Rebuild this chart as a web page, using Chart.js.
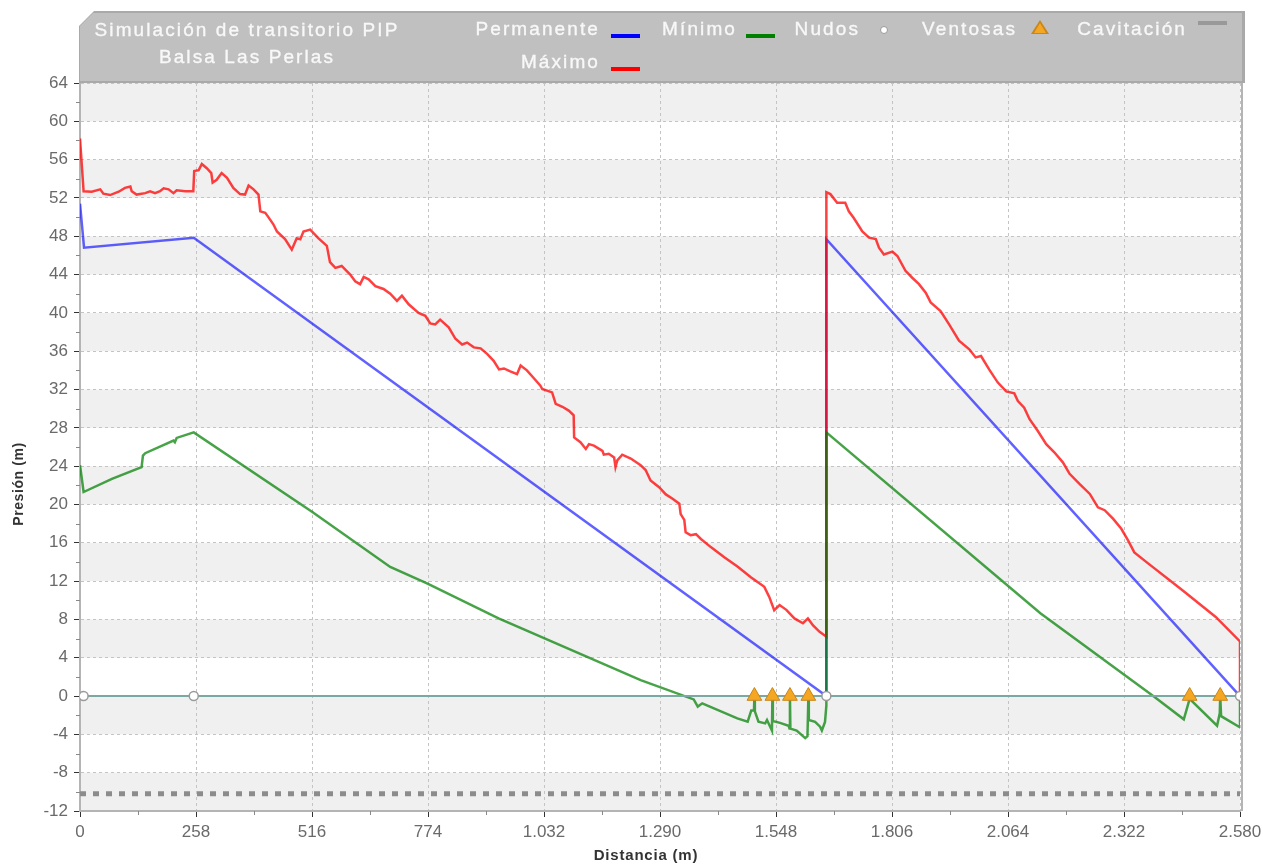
<!DOCTYPE html>
<html><head><meta charset="utf-8">
<script src="https://cdn.jsdelivr.net/npm/chart.js@4.4.0/dist/chart.umd.min.js"></script>
<style>
html,body{margin:0;padding:0;background:#fff;width:1263px;height:864px;overflow:hidden;}
#wrap{position:relative;width:1263px;height:864px;}
#c{position:absolute;left:0;top:0;}
#hdrO{position:absolute;left:79px;top:11px;width:1166px;height:72px;background:#a9a9a9;clip-path:polygon(0 15px,15px 0,100% 0,100% 100%,0 100%);}
#hdrI{position:absolute;left:80px;top:13px;width:1162px;height:68px;background:#c0c0c0;clip-path:polygon(0 13px,13px 0,100% 0,100% 100%,0 100%);}
.t{position:absolute;font-family:"Liberation Sans",Arial,sans-serif;font-size:19px;color:#f8f8f8;letter-spacing:2.1px;white-space:nowrap;line-height:22px;-webkit-text-stroke:0.35px #f8f8f8;}
.sw{position:absolute;height:4px;width:29px;}
.ax{position:absolute;font-family:"Liberation Sans",Arial,sans-serif;font-weight:bold;color:#333;white-space:nowrap;}
</style></head>
<body><div id="wrap">
<canvas id="c" width="1263" height="864"></canvas>
<div id="hdrO"></div><div id="hdrI"></div>
<div class="t" style="left:87px;width:320px;text-align:center;top:19px;">Simulación de transitorio PIP</div>
<div class="t" style="left:87px;width:320px;text-align:center;top:46px;">Balsa Las Perlas</div>
<div class="t" style="right:663px;top:18px;">Permanente</div>
<div class="sw" style="left:611px;top:34px;background:#0000ff;"></div>
<div class="t" style="right:526px;top:18px;">Mínimo</div>
<div class="sw" style="left:746px;top:34px;background:#008000;"></div>
<div class="t" style="right:403px;top:18px;">Nudos</div>
<div style="position:absolute;left:880px;top:26px;width:6px;height:6px;border-radius:50%;background:#fff;border:1.5px solid #9a9a9a;"></div>
<div class="t" style="right:246px;top:18px;">Ventosas</div>
<div style="position:absolute;left:1031px;top:20px;width:0;height:0;border-left:9px solid transparent;border-right:9px solid transparent;border-bottom:14px solid #c8861a;"></div>
<div style="position:absolute;left:1033.5px;top:22.5px;width:0;height:0;border-left:6.5px solid transparent;border-right:6.5px solid transparent;border-bottom:10.5px solid #f5a623;"></div>
<div class="t" style="right:76px;top:18px;">Cavitación</div>
<div class="sw" style="left:1198px;top:21px;background:#999;"></div>
<div class="t" style="right:663px;top:51px;">Máximo</div>
<div class="sw" style="left:611px;top:67px;background:#ff0000;"></div>
<div class="ax" style="left:546px;width:200px;text-align:center;top:846px;font-size:15px;letter-spacing:0.8px;">Distancia (m)</div>
<div class="ax" style="left:-82px;width:200px;text-align:center;top:476px;font-size:14px;letter-spacing:0.6px;transform:rotate(-90deg);">Presión (m)</div>
</div>
<script>
const xTickValues = [0,258,516,774,1032,1290,1548,1806,2064,2322,2580];
const xTickLabels = ['0','258','516','774','1.032','1.290','1.548','1.806','2.064','2.322','2.580'];
const yTickValues = [-12,-8,-4,0,4,8,12,16,20,24,28,32,36,40,44,48,52,56,60,64];
const yTickLabels = ['-12','-8','-4','0','4','8','12','16','20','24','28','32','36','40','44','48','52','56','60','64'];

const permanenteX = [0, 9, 253, 1660, 1660, 2580];
const permanenteY = [51.4, 46.8, 47.85, 0, 47.7, 0];

const maximoX = [0,8,26,45,52,67,86,100,112,115,126,145,156,167,178,186,197,208,215,234,252,254,264,271,282,292,295,304,315,327,341,356,367,375,386,397,401,412,419,430,438,456,471,482,490,497,512,530,549,556,568,582,601,612,623,631,642,657,675,690,705,716,731,753,768,779,790,801,820,835,850,861,876,891,906,920,932,943,957,972,980,994,1009,1024,1028,1050,1058,1073,1087,1098,1099,1113,1125,1132,1143,1162,1165,1176,1188,1191,1195,1206,1225,1247,1258,1269,1288,1303,1318,1333,1336,1344,1347,1358,1370,1381,1403,1433,1463,1492,1522,1533,1544,1556,1571,1589,1608,1619,1630,1645,1660,1660,1669,1684,1702,1710,1721,1740,1755,1770,1777,1788,1807,1818,1836,1851,1866,1881,1892,1914,1933,1955,1978,1992,2004,2022,2041,2060,2078,2086,2100,2112,2130,2149,2167,2186,2201,2223,2246,2264,2279,2298,2316,2331,2345,2377,2452,2526,2580,2580];
const maximoY = [58.2,52.7,52.65,52.9,52.45,52.3,52.65,53.05,53.2,52.7,52.35,52.5,52.7,52.5,52.7,53.0,52.9,52.5,52.8,52.7,52.7,54.8,54.9,55.55,55.1,54.6,53.6,53.9,54.6,54.1,53.05,52.4,52.35,53.3,52.9,52.35,50.6,50.45,50.0,49.25,48.5,47.7,46.6,47.8,47.7,48.5,48.7,47.8,47.0,45.3,44.7,44.9,44.0,43.3,43.0,43.75,43.5,42.8,42.5,42.0,41.25,41.8,40.9,40.0,39.7,38.9,38.8,39.3,38.5,37.3,36.7,36.9,36.4,36.3,35.7,35.0,34.1,34.2,33.9,33.6,34.5,34.0,33.2,32.4,32.05,31.7,30.5,30.2,29.8,29.3,27.0,26.5,25.8,26.3,26.15,25.6,25.2,25.3,24.9,23.9,24.6,25.2,24.8,24.1,23.6,22.5,21.8,21.05,20.6,20.07,19.0,18.4,17.1,16.8,16.9,16.4,15.55,14.5,13.5,12.4,11.4,10.35,8.96,9.5,9.0,8.1,7.6,8.1,7.4,6.7,6.2,52.6,52.4,51.5,51.5,50.6,49.9,48.5,47.85,47.7,46.8,46.1,46.4,45.94,44.4,43.67,43.0,42.1,41.1,40.2,38.8,37.1,36.2,35.35,35.5,34.1,32.75,31.8,31.6,30.8,30.1,28.9,27.7,26.3,25.45,24.4,23.2,22.15,21.1,19.7,19.4,18.5,17.46,16.25,15.0,13.8,11.04,8.26,5.7,0];

const minimoX = [0,8,71,137,140,145,208,211,215,253,516,690,773,931,1247,1365,1374,1384,1462,1485,1493,1499,1500,1501,1509,1524,1528,1535,1539,1540,1541,1557,1576,1578,1579,1580,1594,1613,1618,1620,1621,1635,1646,1650,1657,1660,1660,2136,2387,2455,2468,2529,2535,2536,2538,2580,2580];
const minimoY = [24.1,21.3,22.67,23.9,25.1,25.35,26.67,26.5,26.95,27.53,19.25,13.48,11.73,8.1,1.67,-0.35,-1.1,-0.76,-2.33,-2.67,-1.5,-1.5,0,-1.6,-2.67,-2.85,-2.5,-3.2,-3.6,0,-2.6,-2.8,-3.1,-3.4,0,-3.4,-3.6,-4.4,-4.2,0,-2.5,-2.7,-3.2,-3.6,-2.7,-1.0,27.53,8.65,0,-2.43,-0.3,-3.1,-1.8,0,-2.1,-3.27,0];

const nudosX = [8, 253, 1660, 2580];
const nudosY = [0, 0, 0, 0];
const ventosasX = [1500, 1540, 1579, 1620, 2468, 2536];
const ventosasY = [0, 0, 0, 0, 0, 0];
const cavitacionX = [0, 2580];
const cavitacionY = [-10.2, -10.2];

const zip = (xs, ys) => xs.map((x, i) => ({x: x, y: ys[i]}));

const bandsPlugin = {
  id: 'bands',
  beforeDraw(chart) {
    const {ctx, chartArea: a, scales: {y}} = chart;
    ctx.save();
    ctx.fillStyle = '#ffffff';
    ctx.fillRect(a.left, a.top, a.right - a.left, a.bottom - a.top);
    ctx.fillStyle = '#f0f0f0';
    for (let i = 0; i < yTickValues.length - 1; i++) {
      const lo = yTickValues[i], hi = yTickValues[i + 1];
      if (Math.abs(lo / 4) % 2 === 1) {
        const y1 = y.getPixelForValue(hi), y2 = y.getPixelForValue(lo);
        ctx.fillRect(a.left, y1, a.right - a.left, y2 - y1);
      }
    }
    ctx.restore();
  },
  afterDraw(chart) {
    const {ctx, chartArea: a, scales: {x, y}} = chart;
    ctx.save();
    ctx.strokeStyle = '#888';
    ctx.lineWidth = 1;
    for (let i = 0; i < yTickValues.length - 1; i++) {
      const py = Math.round(y.getPixelForValue((yTickValues[i] + yTickValues[i + 1]) / 2)) + 0.5;
      ctx.beginPath(); ctx.moveTo(a.left - 4, py); ctx.lineTo(a.left, py); ctx.stroke();
    }
    for (let i = 0; i < xTickValues.length - 1; i++) {
      const px = Math.round(x.getPixelForValue((xTickValues[i] + xTickValues[i + 1]) / 2)) + 0.5;
      ctx.beginPath(); ctx.moveTo(px, a.bottom); ctx.lineTo(px, a.bottom + 4); ctx.stroke();
    }
    ctx.strokeStyle = '#b4b4b4';
    ctx.lineWidth = 2;
    ctx.beginPath(); ctx.moveTo(a.right + 2, a.top); ctx.lineTo(a.right + 2, a.bottom); ctx.stroke();
    ctx.restore();
  }
};

new Chart(document.getElementById('c'), {
  type: 'line',
  data: {
    datasets: [
      {label: 'Ventosas', data: zip(ventosasX, ventosasY), showLine: false, pointStyle: 'triangle', pointRadius: 8.5, pointBackgroundColor: '#f5a623', pointBorderColor: '#c8861a', pointBorderWidth: 1, order: 0},
      {label: 'Nudos', data: zip(nudosX, nudosY), borderColor: '#7aa9a3', borderWidth: 2, pointRadius: 4.5, pointBackgroundColor: '#ffffff', pointBorderColor: '#9a9a9a', pointBorderWidth: 1.5, order: 1},
      {label: 'Mínimo', data: zip(minimoX, minimoY), borderColor: 'rgba(0,128,0,0.72)', borderWidth: 2.5, pointRadius: 0, order: 2},
      {label: 'Máximo', data: zip(maximoX, maximoY), borderColor: 'rgba(255,0,0,0.75)', borderWidth: 2.5, pointRadius: 0, order: 3},
      {label: 'Permanente', data: zip(permanenteX, permanenteY), borderColor: 'rgba(0,0,255,0.62)', borderWidth: 2.5, pointRadius: 0, order: 4},
      {label: 'Cavitación', data: zip(cavitacionX, cavitacionY), borderColor: '#8c8c8c', borderWidth: 5, borderDash: [6, 7], borderCapStyle: 'butt', pointRadius: 0, order: 5}
    ]
  },
  options: {
    responsive: false,
    animation: false,
    events: [],
    layout: {padding: {top: 83, right: 23, bottom: 0, left: 0}},
    elements: {line: {tension: 0}},
    plugins: {legend: {display: false}, tooltip: {enabled: false}},
    scales: {
      x: {
        type: 'linear', min: 0, max: 2580,
        afterFit(s) { s.height = 53; s.paddingLeft = 0; s.paddingRight = 0; },
        afterBuildTicks(s) { s.ticks = xTickValues.map(v => ({value: v})); },
        ticks: {callback: (v, i) => xTickLabels[i], color: '#6a6a6a', font: {family: 'Liberation Sans', size: 17}, maxRotation: 0, autoSkip: false, padding: 5},
        grid: {color: '#c4c4c4', tickColor: '#333', tickLength: 6, tickWidth: 1},
        border: {color: '#b4b4b4', width: 2, dash: [3, 3]},
        title: {display: false}
      },
      y: {
        type: 'linear', min: -12, max: 64,
        afterFit(s) { s.width = 80; s.paddingTop = 0; s.paddingBottom = 0; },
        afterBuildTicks(s) { s.ticks = yTickValues.map(v => ({value: v})); },
        ticks: {callback: (v, i) => yTickLabels[i], color: '#6a6a6a', font: {family: 'Liberation Sans', size: 17}, padding: 6},
        grid: {color: '#c4c4c4', tickColor: '#333', tickLength: 6, tickWidth: 1},
        border: {color: '#b4b4b4', width: 2, dash: [3, 3]},
        title: {display: false}
      }
    }
  },
  plugins: [bandsPlugin]
});
</script>
</body></html>
